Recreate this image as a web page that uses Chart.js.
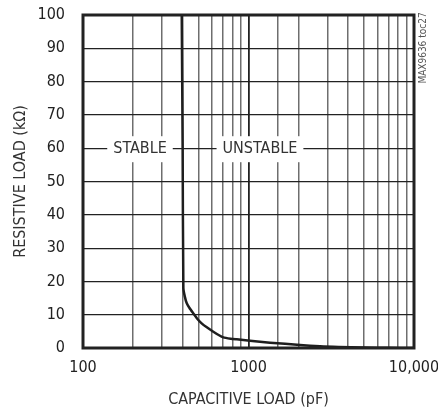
<!DOCTYPE html>
<html>
<head>
<meta charset="utf-8">
<script src="https://cdn.jsdelivr.net/npm/chart.js@4.4.1/dist/chart.umd.min.js"></script>
<style>
  html, body { margin: 0; padding: 0; background: #fff; }
  canvas { display: block; }
</style>
</head>
<body>
<canvas id="c" width="438" height="409"></canvas>
<script>
// Data (capacitive load in pF, resistive load in kOhm)
const capacitance = [395, 400, 404, 412, 423, 440, 464, 490, 521, 560, 613, 660, 704, 780, 849, 1021, 1349, 2048, 2703, 3500, 5000, 7000, 10000];
const resistance  = [100, 60, 18, 15.5, 13.5, 12, 10.4, 8.8, 7.4, 6.2, 4.9, 3.9, 3.2, 2.8, 2.6, 2.2, 1.6, 0.9, 0.5, 0.3, 0.15, 0.05, 0];
const xTickLabels = { 100: '100', 1000: '1000', 10000: '10,000' };
const regionLabels = ['STABLE', 'UNSTABLE'];
const regionX = [221, 1173];
const regionY = [60, 60];

const FONT = "'Liberation Sans Narrow', 'DejaVu Sans Condensed', 'Liberation Sans', sans-serif";

const points = capacitance.map((c, i) => ({ x: c, y: resistance[i] }));

const overlay = {
  id: 'overlay',
  beforeDatasetsDraw(chart) {
    const { ctx, scales: { x, y } } = chart;
    ctx.save();
    ctx.font = "16px " + FONT;
    ctx.textAlign = 'center';
    ctx.textBaseline = 'middle';
    regionLabels.forEach((t, i) => {
      const px = x.getPixelForValue(regionX[i]);
      const py = y.getPixelForValue(regionY[i]);
      const w = ctx.measureText(t).width;
      ctx.fillStyle = '#fff';
      ctx.fillRect(px - w / 2 - 6, py - 12, w + 12, 26);
      ctx.fillStyle = '#333';
      ctx.fillText(t, px, py + 1);
    });
    ctx.restore();
  },
  afterDraw(chart) {
    const { ctx, chartArea: a } = chart;
    ctx.save();
    ctx.strokeStyle = '#222';
    ctx.lineWidth = 3;
    ctx.strokeRect(a.left, a.top, a.right - a.left, a.bottom - a.top);
    // rotated note
    ctx.translate(a.right + 9, a.top + 33);
    ctx.rotate(-Math.PI / 2);
    ctx.font = "10px " + FONT;
    ctx.fillStyle = '#555';
    ctx.textAlign = 'center';
    ctx.textBaseline = 'middle';
    ctx.fillText('MAX9636 toc27', 0, 0);
    ctx.restore();
  }
};

new Chart(document.getElementById('c'), {
  type: 'scatter',
  data: {
    datasets: [{
      data: points,
      showLine: true,
      borderColor: '#1e1e1e',
      borderWidth: 2.5,
      pointRadius: 0,
      tension: 0.2,
      fill: false
    }]
  },
  options: {
    responsive: false,
    animation: false,
    devicePixelRatio: 1,
    layout: { padding: { left: 0, right: 24, top: 15, bottom: 0 } },
    plugins: { legend: { display: false }, tooltip: { enabled: false } },
    scales: {
      x: {
        type: 'logarithmic',
        min: 100,
        max: 10000,
        afterFit(s) { s.height = 61; s.paddingLeft = 0; s.paddingRight = 0; },
        border: { display: false },
        grid: {
          drawTicks: false,
          color: (ctx) => (ctx.tick && [100, 1000, 10000].includes(ctx.tick.value)) ? '#222' : '#6e6e6e',
          lineWidth: (ctx) => (ctx.tick && ctx.tick.value === 1000) ? 1.8 : 1.5
        },
        ticks: {
          autoSkip: false,
          maxRotation: 0,
          padding: 10,
          color: '#222',
          font: { family: FONT, size: 16 },
          callback: (v) => xTickLabels[v] !== undefined ? xTickLabels[v] : ''
        },
        title: {
          display: true,
          text: 'CAPACITIVE LOAD (pF)',
          color: '#333',
          font: { family: FONT, size: 16 },
          padding: { top: 0, bottom: 0 }
        }
      },
      y: {
        min: 0,
        max: 100,
        afterFit(s) { s.width = 83; s.paddingTop = 0; s.paddingBottom = 0; },
        border: { display: false },
        grid: { drawTicks: false, color: '#222', lineWidth: 1.2 },
        ticks: {
          stepSize: 10,
          padding: 18,
          color: '#222',
          font: { family: FONT, size: 16 }
        },
        title: {
          display: true,
          text: 'RESISTIVE LOAD (kΩ)',
          color: '#333',
          font: { family: FONT, size: 16 },
          padding: { top: 11, bottom: 0 }
        }
      }
    }
  },
  plugins: [overlay]
});
</script>
</body>
</html>
